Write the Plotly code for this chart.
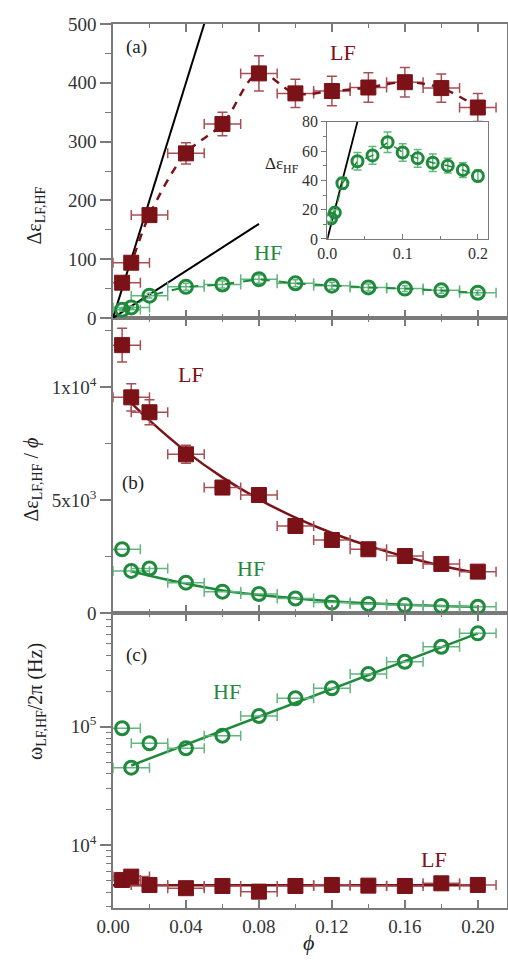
import plotly.graph_objects as go

# ---------------- data ----------------
phi = [0.005, 0.01, 0.02, 0.04, 0.06, 0.08, 0.10, 0.12, 0.14, 0.16, 0.18, 0.20]
phi_err = [0.01] * 12

# panel (a): dielectric increments
lf_a = [60, 94, 175, 280, 330, 416, 382, 386, 392, 401, 391, 358]
lf_a_err = [6, 8, 10, 18, 20, 30, 24, 25, 25, 25, 24, 24]
hf_a = [14, 18, 38, 53, 57, 66, 59, 55, 52, 50, 47, 43]
hf_a_err = [2, 2, 4, 6, 6, 7, 6, 6, 6, 5, 5, 4]

# linear low-concentration slopes (endpoints)
slope1_x = [0.0, 0.06]
slope1_y = [0, 600]
slope2_x = [0.0, 0.08]
slope2_y = [0, 160]
inset_line_x = [0.0, 0.045]
inset_line_y = [0, 90]

# panel (b): increment per volume fraction
lf_b = [11850, 9540, 8880, 7020, 5550, 5220, 3850, 3230, 2820, 2520, 2170, 1830]
lf_b_err = [750, 600, 550, 400, 250, 200, 120, 100, 100, 100, 100, 100]
hf_b = [2820, 1860, 1970, 1340, 945, 840, 640, 460, 400, 350, 310, 280]
fit_x = [0.01, 0.02, 0.04, 0.06, 0.08, 0.10, 0.12, 0.14, 0.16, 0.18, 0.20]
lf_b_fit = [9300, 8520, 7150, 6000, 5030, 4220, 3540, 2970, 2500, 2090, 1760]
hf_b_fit = [1850, 1650, 1300, 1000, 800, 650, 520, 430, 360, 305, 260]

# panel (c): relaxation frequencies (Hz)
hf_c = [97000, 45000, 72400, 65700, 83900, 123000, 174000, 211000, 279000, 354000, 474000, 615000]
lf_c = [5060, 5400, 4590, 4310, 4500, 4030, 4500, 4590, 4530, 4500, 4740, 4590]
hf_c_fit_x = [0.01, 0.20]
hf_c_fit_y = [47000, 615000]
lf_c_fit_x = [0.0, 0.20]
lf_c_fit_y = [4560, 4560]

# ---------------- styles ----------------
LF = "#7B1218"
LF_ERR = "#A84F56"
HF = "#1F8A3B"
HF_ERR = "#62B67E"
FONT = "Liberation Serif"
AX = "#7a7a7a"
TXT = "#333333"

fig = go.Figure()


def lf_marker():
    return dict(symbol="square", size=15, color=LF, line=dict(color=LF, width=1))


def hf_marker(size=13):
    return dict(symbol="circle-open", size=size, color=HF, line=dict(color=HF, width=3))


# ---- panel (a) ----
fig.add_trace(go.Scatter(x=slope1_x, y=slope1_y, mode="lines", line=dict(color="black", width=2),
                         xaxis="x3", yaxis="y3", showlegend=False))
fig.add_trace(go.Scatter(x=slope2_x, y=slope2_y, mode="lines", line=dict(color="black", width=2),
                         xaxis="x3", yaxis="y3", showlegend=False))
fig.add_trace(go.Scatter(x=phi, y=lf_a, mode="lines+markers",
                         line=dict(color=LF, width=2.5, dash="8px,7px", shape="spline"),
                         marker=lf_marker(),
                         error_x=dict(type="data", array=phi_err, color=LF_ERR, thickness=1.5, width=5),
                         error_y=dict(type="data", array=lf_a_err, color=LF_ERR, thickness=1.5, width=5),
                         xaxis="x3", yaxis="y3", showlegend=False))
fig.add_trace(go.Scatter(x=phi, y=hf_a, mode="lines+markers",
                         line=dict(color=HF, width=2, dash="dash"),
                         marker=hf_marker(),
                         error_x=dict(type="data", array=phi_err, color=HF_ERR, thickness=1.5, width=5),
                         error_y=dict(type="data", array=hf_a_err, color=HF_ERR, thickness=1.5, width=3),
                         xaxis="x3", yaxis="y3", showlegend=False))

# ---- inset ----
fig.add_trace(go.Scatter(x=inset_line_x, y=inset_line_y, mode="lines", line=dict(color="black", width=1.8),
                         xaxis="x4", yaxis="y4", showlegend=False))
fig.add_trace(go.Scatter(x=phi, y=hf_a, mode="lines+markers",
                         line=dict(color=HF, width=1.5, dash="dash"),
                         marker=hf_marker(11),
                         error_y=dict(type="data", array=hf_a_err, color=HF_ERR, thickness=1.5, width=4),
                         xaxis="x4", yaxis="y4", showlegend=False))

# ---- panel (b) ----
fig.add_trace(go.Scatter(x=fit_x, y=lf_b_fit, mode="lines", line=dict(color=LF, width=2.5, shape="spline"),
                         xaxis="x2", yaxis="y2", showlegend=False))
fig.add_trace(go.Scatter(x=fit_x, y=hf_b_fit, mode="lines", line=dict(color=HF, width=2.5, shape="spline"),
                         xaxis="x2", yaxis="y2", showlegend=False))
fig.add_trace(go.Scatter(x=phi, y=lf_b, mode="markers", marker=lf_marker(),
                         error_x=dict(type="data", array=phi_err, color=LF_ERR, thickness=1.5, width=5),
                         error_y=dict(type="data", array=lf_b_err, color=LF_ERR, thickness=1.5, width=5),
                         xaxis="x2", yaxis="y2", showlegend=False))
fig.add_trace(go.Scatter(x=phi, y=hf_b, mode="markers", marker=hf_marker(),
                         error_x=dict(type="data", array=phi_err, color=HF_ERR, thickness=1.5, width=5),
                         xaxis="x2", yaxis="y2", showlegend=False))

# ---- panel (c) ----
fig.add_trace(go.Scatter(x=hf_c_fit_x, y=hf_c_fit_y, mode="lines", line=dict(color=HF, width=2.5),
                         xaxis="x", yaxis="y", showlegend=False))
fig.add_trace(go.Scatter(x=lf_c_fit_x, y=lf_c_fit_y, mode="lines", line=dict(color=LF, width=2.5),
                         xaxis="x", yaxis="y", showlegend=False))
fig.add_trace(go.Scatter(x=phi, y=hf_c, mode="markers", marker=hf_marker(),
                         error_x=dict(type="data", array=phi_err, color=HF_ERR, thickness=1.5, width=5),
                         xaxis="x", yaxis="y", showlegend=False))
fig.add_trace(go.Scatter(x=phi, y=lf_c, mode="markers", marker=lf_marker(),
                         error_x=dict(type="data", array=phi_err, color=LF_ERR, thickness=1.5, width=5),
                         xaxis="x", yaxis="y", showlegend=False))

# ---------------- axes ----------------
H_PLOT = 974 - 24 - 66
W_PLOT = 508 - 113 - 1
d_c = [0, 295 / H_PLOT]
d_b = [295 / H_PLOT, 590 / H_PLOT]
d_a = [590 / H_PLOT, 1]
XR = [0, 0.216]

xcommon = dict(range=XR, showline=True, linecolor=AX, linewidth=1.5, mirror="ticks",
               ticks="inside", ticklen=8, tickwidth=1.5, tickcolor=AX, automargin=False,
               tick0=0, dtick=0.04, showgrid=False, zeroline=False,
               minor=dict(ticks="inside", ticklen=4, tickwidth=1.2, tickcolor=AX, dtick=0.02, tick0=0),
               tickfont=dict(family=FONT, size=19, color=TXT))
ycommon = dict(showline=True, linecolor=AX, linewidth=1.5, mirror=True, automargin=False,
               ticks="outside", ticklen=11, tickwidth=1.5, tickcolor=AX,
               showgrid=False, zeroline=False,
               tickfont=dict(family=FONT, size=19, color=TXT))

fig.update_layout(
    width=508, height=974,
    margin=dict(l=113, r=1, t=24, b=66, autoexpand=False),
    paper_bgcolor="white", plot_bgcolor="white",
    xaxis=dict(**xcommon, domain=[0, 1], anchor="y", tickformat=".2f"),
    xaxis2=dict(**xcommon, domain=[0, 1], anchor="y2", showticklabels=False),
    xaxis3=dict(**xcommon, domain=[0, 1], anchor="y3", showticklabels=False),
    yaxis=dict(**ycommon, domain=d_c, anchor="x", type="log", range=[3.467, 5.961],
               tickvals=[1e4, 1e5], ticktext=["10<sup>4</sup>", "10<sup>5</sup>"],
               minor=dict(ticks="outside", ticklen=5, tickwidth=1.2, tickcolor=AX,
                          tickvals=[3000, 4000, 5000, 6000, 7000, 8000, 9000,
                                    20000, 30000, 40000, 50000, 60000, 70000, 80000, 90000,
                                    200000, 300000, 400000, 500000, 600000, 700000, 800000, 900000])),
    yaxis2=dict(**ycommon, domain=d_b, anchor="x2", range=[0, 13050],
                tickvals=[0, 5000, 10000], ticktext=["0", "5x10<sup>3</sup>", "1x10<sup>4</sup>"],
                minor=dict(ticks="outside", ticklen=6, tickwidth=1.2, tickcolor=AX, dtick=2500, tick0=0)),
    yaxis3=dict(**ycommon, domain=d_a, anchor="x3", range=[0, 500], tick0=0, dtick=100,
                minor=dict(ticks="outside", ticklen=6, tickwidth=1.2, tickcolor=AX, dtick=50, tick0=0)),
    xaxis4=dict(domain=[0.544, 0.951], anchor="y4", range=[0, 0.213], showline=True, linecolor=AX,
                linewidth=1.2, mirror=True, ticks="inside", ticklen=5, tickcolor=AX, tick0=0, dtick=0.1,
                tickformat=".1f", showgrid=False, zeroline=False, automargin=False,
                minor=dict(ticks="inside", ticklen=3, tickcolor=AX, dtick=0.05, tick0=0),
                tickfont=dict(family=FONT, size=16, color=TXT)),
    yaxis4=dict(domain=[0.7568, 0.8895], anchor="x4", range=[0, 80], showline=True, linecolor=AX,
                linewidth=1.2, mirror=True, ticks="outside", ticklen=5, tickcolor=AX, tick0=0, dtick=20,
                showgrid=False, zeroline=False, automargin=False,
                minor=dict(ticks="outside", ticklen=3, tickcolor=AX, dtick=10, tick0=0),
                tickfont=dict(family=FONT, size=16, color=TXT)),
)

# ---------------- annotations ----------------
def ann(text, x, y, xref, yref, color=TXT, size=19, **kw):
    fig.add_annotation(text=text, x=x, y=y, xref=xref, yref=yref, showarrow=False,
                       font=dict(family=FONT, size=size, color=color), **kw)


ann("(a)", 0.013, 461, "x3", "y3", color="#222", size=19)
ann("LF", 0.1262, 451, "x3", "y3", color=LF, size=22)
ann("HF", 0.085, 112, "x3", "y3", color=HF, size=22)
ann("Δε<sub>HF</sub>", (282 - 113) / W_PLOT, (908 - 152) / H_PLOT, "paper", "paper", color="#222", size=17)

ann("(b)", 0.011, 5750, "x2", "y2", color="#222", size=19)
ann("LF", 0.043, 10530, "x2", "y2", color=LF, size=22)
ann("HF", 0.0757, 1990, "x2", "y2", color=HF, size=22)

ann("(c)", 0.013, 5.606, "x", "y", color="#222", size=19)
ann("HF", 0.0625, 5.296, "x", "y", color=HF, size=22)
ann("LF", 0.176, 3.879, "x", "y", color=LF, size=22)

# axis titles
ann("Δε<sub>LF,HF</sub>", (20 - 113) / W_PLOT, (908 - 185) / H_PLOT, "paper", "paper",
    color="#222", size=20, textangle=-90)
ann("Δε<sub>LF,HF</sub> / <i>ϕ</i>", (18 - 113) / W_PLOT, (908 - 480) / H_PLOT, "paper", "paper",
    color="#222", size=20, textangle=-90)
ann("ω<sub>LF,HF</sub>/2π (Hz)", (22 - 113) / W_PLOT, (908 - 762) / H_PLOT, "paper", "paper",
    color="#222", size=20, textangle=-90)
ann("<i>ϕ</i>", (308 - 113) / W_PLOT, (908 - 957) / H_PLOT, "paper", "paper", color="#222", size=22)

fig.write_html("out.html")
